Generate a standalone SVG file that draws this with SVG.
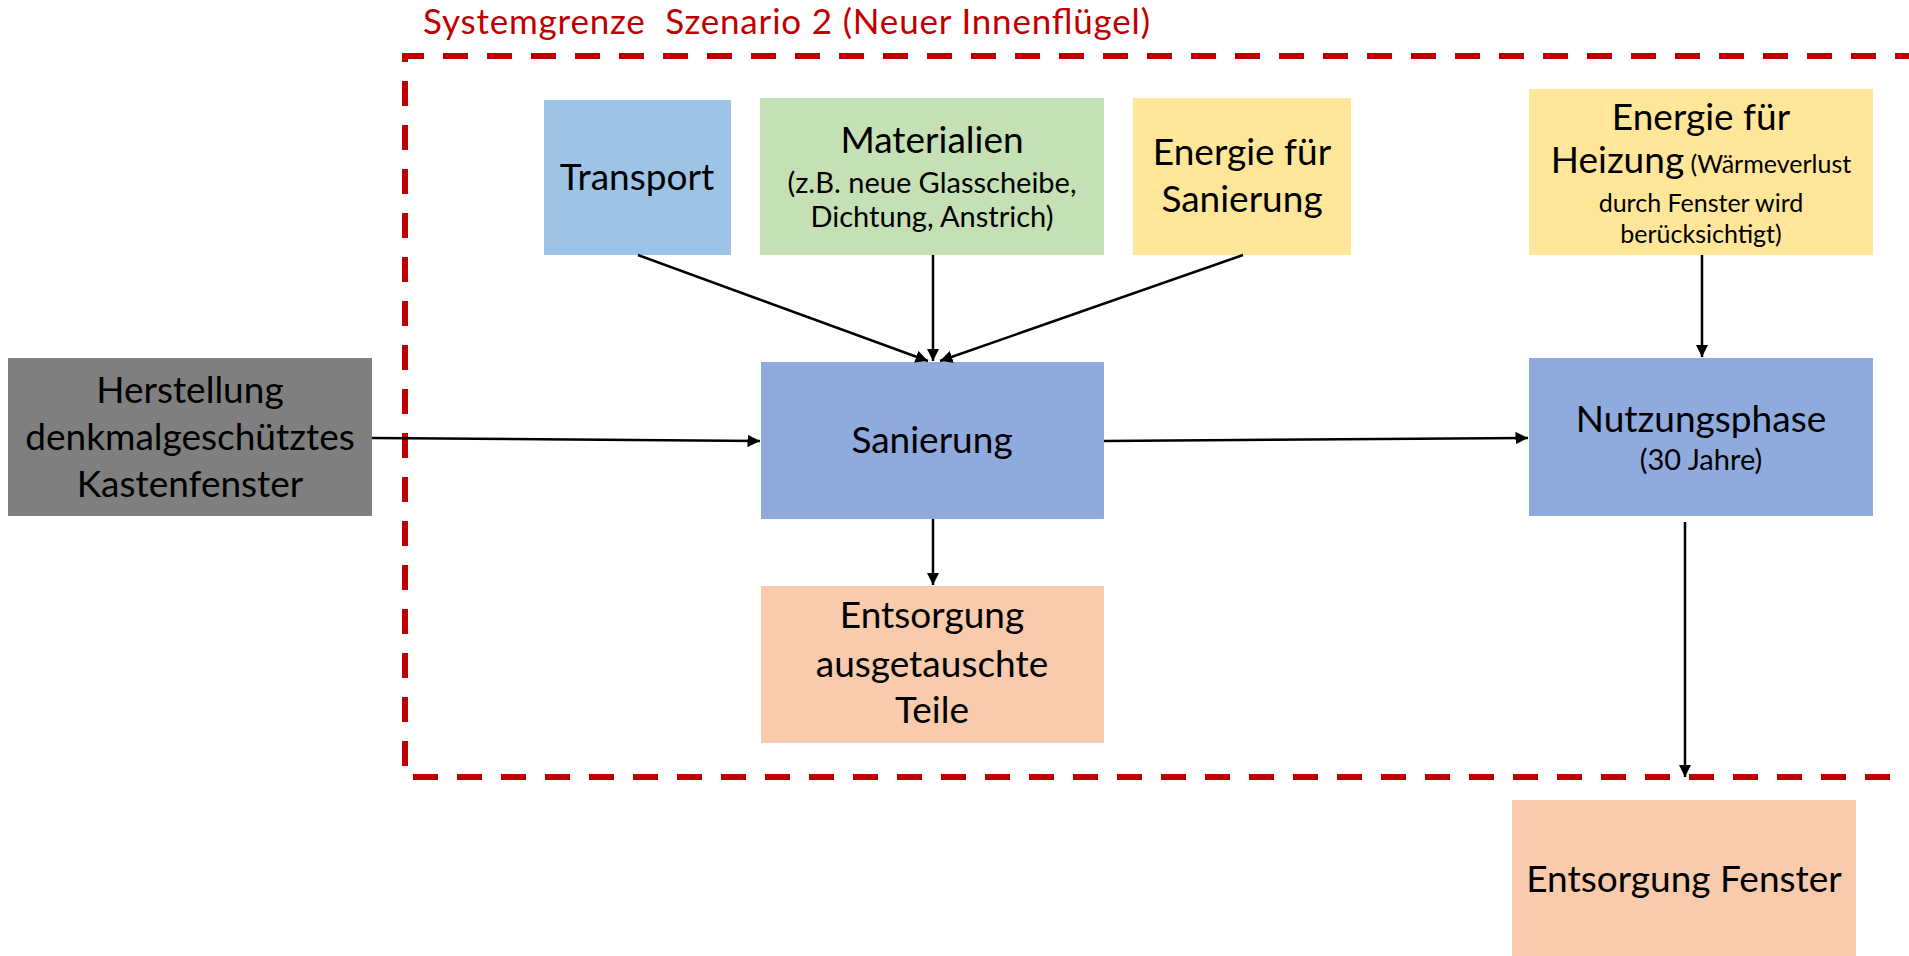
<svg xmlns="http://www.w3.org/2000/svg" width="1909" height="956" viewBox="0 0 1909 956">
<defs>
<style>
text{font-family:Lato,"Open Sans","Noto Sans",sans-serif;fill:#000;text-anchor:middle}
.big{font-size:37px}
.mid{font-size:29px}
.sm{font-size:25px}
.title{font-size:35px;fill:#C00000;text-anchor:start}
.conn{stroke:#000;stroke-width:2.5;fill:none;marker-end:url(#ah)}
</style>
<marker id="ah" viewBox="0 0 10 10" refX="10" refY="5" markerWidth="5" markerHeight="5" markerUnits="strokeWidth" orient="auto">
<path d="M0,0 L10,5 L0,10 z" fill="#000"/>
</marker>
</defs>
<rect width="1909" height="956" fill="#fff"/>

<g id="boundary">
<text class="title" x="423" y="34" textLength="727" xml:space="preserve">Systemgrenze  Szenario 2 (Neuer Innenflügel)</text>
<path d="M1920,56 L405,56 L405,777 L1920,777" fill="none" stroke="#C00000" stroke-width="6" stroke-dasharray="25 19"/>
</g>

<g id="herstellung">
<rect x="8" y="358" width="364" height="158" fill="#7F7F7F"/>
<text class="big" x="190" y="403">Herstellung</text>
<text class="big" x="190" y="450">denkmalgeschütztes</text>
<text class="big" x="190" y="497">Kastenfenster</text>
</g>

<g id="transport">
<rect x="544" y="100" width="187" height="155" fill="#9DC3E6"/>
<text class="big" x="637" y="190">Transport</text>
</g>

<g id="materialien">
<rect x="760" y="98" width="344" height="157" fill="#C5E0B4"/>
<text class="big" x="932" y="153">Materialien</text>
<text class="mid" x="932" y="193">(z.B. neue Glasscheibe,</text>
<text class="mid" x="932" y="227">Dichtung, Anstrich)</text>
</g>

<g id="energie-sanierung">
<rect x="1133" y="98" width="218" height="157" fill="#FFE699"/>
<text class="big" x="1242" y="165">Energie für</text>
<text class="big" x="1242" y="212">Sanierung</text>
</g>

<g id="energie-heizung">
<rect x="1529" y="89" width="344" height="166" fill="#FFE699"/>
<text class="big" x="1701" y="130">Energie für</text>
<text x="1701" y="173"><tspan class="big">Heizung</tspan><tspan class="sm"> (Wärmeverlust</tspan></text>
<text class="sm" x="1701" y="212">durch Fenster wird</text>
<text class="sm" x="1701" y="243">berücksichtigt)</text>
</g>

<g id="sanierung">
<rect x="761" y="362" width="343" height="157" fill="#8FAADC"/>
<text class="big" x="932" y="453">Sanierung</text>
</g>

<g id="entsorgung-teile">
<rect x="761" y="586" width="343" height="157" fill="#F8CBAD"/>
<text class="big" x="932" y="628">Entsorgung</text>
<text class="big" x="932" y="677">ausgetauschte</text>
<text class="big" x="932" y="723">Teile</text>
</g>

<g id="nutzungsphase">
<rect x="1529" y="358" width="344" height="158" fill="#8FAADC"/>
<text class="big" x="1701" y="432">Nutzungsphase</text>
<text class="mid" x="1701" y="470">(30 Jahre)</text>
</g>

<g id="entsorgung-fenster">
<rect x="1512" y="800" width="344" height="160" fill="#F8CBAD"/>
<text class="big" x="1684" y="892">Entsorgung Fenster</text>
</g>

<g id="connectors">
<line class="conn" x1="638" y1="255" x2="928" y2="361"/>
<line class="conn" x1="933" y1="255" x2="933" y2="361"/>
<line class="conn" x1="1243" y1="255" x2="940" y2="361"/>
<line class="conn" x1="372" y1="438" x2="760" y2="441"/>
<line class="conn" x1="1104" y1="441" x2="1528" y2="438"/>
<line class="conn" x1="933" y1="519" x2="933" y2="585"/>
<line class="conn" x1="1702" y1="255" x2="1702" y2="357"/>
<line class="conn" x1="1685" y1="522" x2="1685" y2="777"/>
</g>
</svg>
